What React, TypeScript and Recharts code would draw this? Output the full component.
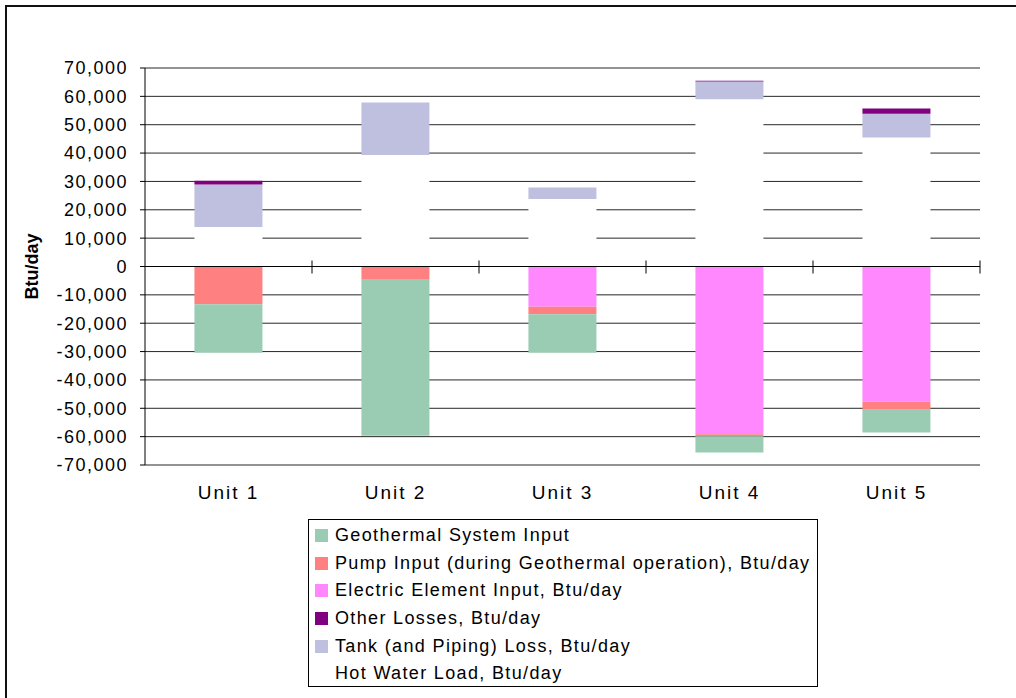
import React from "react";
import {
  BarChart,
  Bar,
  XAxis,
  YAxis,
  CartesianGrid,
  ReferenceLine,
  Legend,
} from "recharts";

// Btu/day per unit
const categories = ["Unit 1", "Unit 2", "Unit 3", "Unit 4", "Unit 5"];
const hotWaterLoad = [13900, 39300, 23800, 59000, 45500];
const tankLoss = [15000, 18500, 4100, 6200, 8400];
const otherLosses = [1300, 0, 0, 300, 1800];
const electricInput = [0, 0, -14200, -59200, -47700];
const pumpInput = [-13300, -4400, -2600, -700, -2800];
const geothermalInput = [-17100, -55300, -13600, -5700, -8000];
const yTicks = [
  -70000, -60000, -50000, -40000, -30000, -20000, -10000, 0, 10000, 20000,
  30000, 40000, 50000, 60000, 70000,
];

// stacking order (first = nearest zero), legend shows it reversed
const series = [
  { key: "hot", name: "Hot Water Load, Btu/day", color: "#FFFFFF", swatch: false },
  { key: "tank", name: "Tank (and Piping) Loss, Btu/day", color: "#BFBFDF", swatch: true },
  { key: "other", name: "Other Losses, Btu/day", color: "#800080", swatch: true },
  { key: "electric", name: "Electric Element Input, Btu/day", color: "#FF88FF", swatch: true },
  { key: "pump", name: "Pump Input (during Geothermal operation), Btu/day", color: "#FF8080", swatch: true },
  { key: "geo", name: "Geothermal System Input", color: "#9ACBB3", swatch: true },
];

const data = categories.map((name, i) => ({
  name,
  hot: hotWaterLoad[i],
  tank: tankLoss[i],
  other: otherLosses[i],
  electric: electricInput[i],
  pump: pumpInput[i],
  geo: geothermalInput[i],
}));

const FONT = "'Liberation Sans', Arial, sans-serif";

// zero line with Excel-style cross tick marks between categories
const ZeroAxis = (props: any) => {
  const { x1, y1, x2 } = props;
  const step = (x2 - x1) / categories.length;
  const marks = categories.map((_, i) => x1 + step * (i + 1));
  return (
    <g>
      <line x1={x1} y1={y1} x2={x2} y2={y1} stroke="#000" strokeWidth={1} />
      {marks.map((x, i) => (
        <line key={i} x1={x} y1={y1 - 6} x2={x} y2={y1 + 7} stroke="#000" strokeWidth={1} />
      ))}
    </g>
  );
};

const LegendBox = () => (
  <div
    style={{
      width: 510,
      height: 168,
      border: "1px solid #000",
      background: "#fff",
      paddingTop: 2,
      boxSizing: "border-box",
      fontFamily: FONT,
      fontSize: 18,
      letterSpacing: 1.35,
      color: "#000",
    }}
  >
    {[...series].reverse().map((s) => (
      <div key={s.key} style={{ height: 27.6, display: "flex", alignItems: "center" }}>
        <span
          style={{
            display: "inline-block",
            width: 13,
            height: 13,
            marginLeft: 6,
            marginRight: 7,
            background: s.swatch ? s.color : "transparent",
          }}
        />
        <span>{s.name}</span>
      </div>
    ))}
  </div>
);

export default function App() {
  return (
    <div
      style={{
        position: "absolute",
        left: 0,
        top: 0,
        width: 1016,
        height: 698,
        overflow: "hidden",
        fontFamily: FONT,
        background: "#fff",
      }}
    >
      {/* outer frame of the chart area; it runs off the right and bottom edges */}
      <div
        style={{
          position: "absolute",
          left: 5,
          top: 5,
          right: -20,
          bottom: -20,
          borderLeft: "2px solid #111",
          borderTop: "2px solid #111",
          boxSizing: "border-box",
        }}
      />
      <div style={{ position: "absolute", left: 0, top: 0 }}>
        <BarChart
          width={1016}
          height={698}
          data={data}
          stackOffset="sign"
          barCategoryGap="29.6%"
          margin={{ top: 68, right: 36, left: 0, bottom: 193 }}
        >
          <CartesianGrid vertical={false} stroke="#000" strokeOpacity={0.85} />
          <XAxis
            dataKey="name"
            axisLine={false}
            tickLine={false}
            tickSize={0}
            tickMargin={21}
            height={40}
            tick={{ fill: "#000", fontSize: 19, letterSpacing: 2, fontFamily: FONT }}
          />
          <YAxis
            width={145}
            domain={[-70000, 70000]}
            ticks={yTicks}
            interval={0}
            allowDataOverflow
            stroke="#000"
            tickSize={5}
            tickMargin={12}
            tickFormatter={(v: number) => v.toLocaleString("en-US")}
            tick={{ fill: "#000", fontSize: 18, letterSpacing: 1.5, fontFamily: FONT }}
            label={{
              value: "Btu/day",
              angle: -90,
              position: "insideLeft",
              offset: 32,
              style: { fill: "#000", fontSize: 18, fontWeight: "bold", fontFamily: FONT, textAnchor: "middle" },
            }}
          />
          {series.map((s) => (
            <Bar
              key={s.key}
              dataKey={s.key}
              name={s.name}
              stackId="a"
              fill={s.color}
              isAnimationActive={false}
            />
          ))}
          <ReferenceLine y={0} shape={ZeroAxis} />
          <Legend
            layout="vertical"
            align="center"
            verticalAlign="middle"
            content={() => <LegendBox />}
            wrapperStyle={{ left: 308, top: 519, width: 510, height: 168 }}
          />
        </BarChart>
      </div>
    </div>
  );
}
